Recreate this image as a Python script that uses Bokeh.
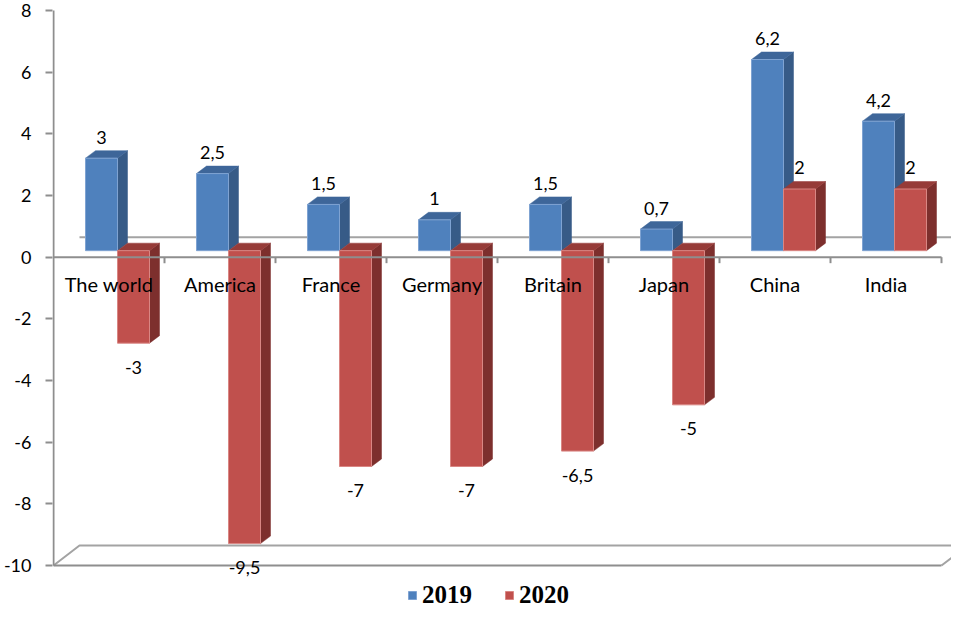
from bokeh.plotting import figure
from bokeh.models import Range1d, FixedTicker, Legend, LegendItem, ColumnDataSource
from bokeh.embed import file_html
from bokeh.resources import INLINE
from bokeh.core.properties import value

# ---- data ----
categories = ["The world", "America", "France", "Germany", "Britain", "Japan", "China", "India"]
values_2019 = [3, 2.5, 1.5, 1, 1.5, 0.7, 6.2, 4.2]
values_2020 = [-3, -9.5, -7, -7, -6.5, -5, 2, 2]
series_names = ["2019", "2020"]
y_ticks = [-10, -8, -6, -4, -2, 0, 2, 4, 6, 8]

# ---- geometry (pixels -> data units) ----
W, H = 951, 609
BL = 52
frame_w = W - BL
PXX = 111.0
X0 = -0.5 - 1 / PXX
X1 = X0 + frame_w / PXX
Y_TOP_PX, Y_BOT_PX = 10, 565          # screen rows of y=8 and y=-10 inside the frame
PXY = (Y_BOT_PX - Y_TOP_PX) / (y_ticks[-1] - y_ticks[0])
Y1 = y_ticks[-1] + Y_TOP_PX / PXY
Y0 = y_ticks[0] - (H - Y_BOT_PX) / PXY

ox, oy = 8.5 / PXX, 6.5 / PXY      # bar front-face offset (depth)
dx, dy = 10 / PXX, 7.5 / PXY       # bar depth
bw = 32 / PXX                      # bar width
wx, wy = 26 / PXX, 20 / PXY        # wall / floor depth
n = len(categories)
XL, XR = -0.5, n - 0.5
YB, YT = y_ticks[0], y_ticks[-1]

def fmt(v):
    return str(int(v)) if float(v).is_integer() else str(v).replace(".", ",")

def bar_shapes(vals, left_side):
    d = dict(left=[], right=[], bottom=[], top=[])
    tops_x, tops_y, sides_x, sides_y = [], [], [], []
    for i, v in enumerate(vals):
        x0 = i + ox - bw if left_side else i + ox
        x1 = x0 + bw
        b = min(0, v) + oy
        t = max(0, v) + oy
        d["left"].append(x0); d["right"].append(x1)
        d["bottom"].append(b); d["top"].append(t)
        tops_x.append([x0, x1, x1 + dx, x0 + dx])
        tops_y.append([t, t, t + dy, t + dy])
        sides_x.append([x1, x1, x1 + dx, x1 + dx])
        sides_y.append([b, t, t + dy, b + dy])
    return d, tops_x, tops_y, sides_x, sides_y

p = figure(width=W, height=H, x_range=Range1d(X0, X1), y_range=Range1d(Y0, Y1),
           output_backend="svg", toolbar_location=None, x_axis_location=None,
           min_border_left=BL, min_border_right=0, min_border_top=0, min_border_bottom=0)
p.grid.visible = False
p.outline_line_color = None
p.background_fill_color = "white"

gray = "#8E8E8E"
lgray = "#A3A3A3"
# back wall zero line and floor
p.line([XL + wx, XR + wx], [wy, wy], line_color=lgray, line_width=2)
p.line([XL, XL + wx, XR + wx, XR], [YB, YB + wy, YB + wy, YB], line_color=lgray, line_width=2)
p.line([XL, XR], [YB, YB], line_color=gray, line_width=2)

colors = {
    "2019": dict(front="#4F81BD", side="#375B87", top="#3E6699", edge="#7FA3D2"),
    "2020": dict(front="#C0504D", side="#7D2F2D", top="#963B38", edge="#D98683"),
}

renderers = []
for name, vals, left in [("2019", values_2019, True), ("2020", values_2020, False)]:
    c = colors[name]
    d, tx, ty, sx, sy = bar_shapes(vals, left)
    p.patches(sx, sy, fill_color=c["side"], line_color=c["side"], line_width=0.5)
    p.patches(tx, ty, fill_color=c["top"], line_color=c["top"], line_width=0.5)
    r = p.quad(left="left", right="right", bottom="bottom", top="top", source=ColumnDataSource(d),
               fill_color=c["front"], line_color=c["edge"], line_width=1)
    renderers.append(r)

# front zero axis line with tick marks
p.line([XL, XR], [0, 0], line_color=gray, line_width=2)
tick_x = [i + 0.5 for i in range(n)]
p.segment(x0=tick_x, y0=[0] * n, x1=tick_x, y1=[-6 / PXY] * n, line_color=gray, line_width=2)
# vertical axis line (drawn as a glyph so the frame can extend past it)
p.line([XL, XL], [YB, YT], line_color=gray, line_width=2)

font = value("Lato")
# category labels
p.text(x=list(range(n)), y=[0] * n, text=categories,
       text_font=font, text_font_size="20px", text_align="center", text_baseline="middle",
       y_offset=27, text_color="#000000")

# value labels 2019
lx = [i + ox - bw / 2 for i in range(n)]
ly = [max(0, v) + oy for v in values_2019]
p.text(x=lx, y=ly, text=[fmt(v) for v in values_2019], text_font=font, text_font_size="18px",
       text_align="center", text_baseline="middle", y_offset=-21, text_color="#000000")

# value labels 2020
lx2 = [i + ox + bw / 2 for i in range(n)]
ly2 = [v + oy for v in values_2020]
off2 = [24 if v < 0 else -22 for v in values_2020]
src2 = ColumnDataSource(dict(x=lx2, y=ly2, t=[fmt(v) for v in values_2020], off=off2))
p.text(x="x", y="y", text="t", y_offset="off", source=src2, text_font=font, text_font_size="18px",
       text_align="center", text_baseline="middle", text_color="#000000")

# y axis
ax = p.yaxis[0]
ax.ticker = FixedTicker(ticks=y_ticks)
ax.major_label_overrides = {t: str(t) for t in y_ticks}
ax.minor_tick_line_color = None
ax.major_tick_out = 7
ax.major_tick_in = 0
ax.axis_line_color = None
ax.major_tick_line_color = gray
ax.major_tick_line_width = 2
ax.major_label_text_font = "Lato"
ax.major_label_text_font_size = "18px"
ax.major_label_text_color = "#000000"
ax.major_label_standoff = 14

legend = Legend(items=[LegendItem(label=series_names[0], renderers=[renderers[0]]),
                       LegendItem(label=series_names[1], renderers=[renderers[1]])],
                orientation="horizontal", location=(355, 0),
                glyph_width=10, glyph_height=10, label_standoff=5, spacing=32,
                padding=0, margin=0, border_line_color=None, background_fill_alpha=0,
                label_height=18,
                label_text_font="Liberation Serif", label_text_font_style="bold",
                label_text_font_size="25px", label_text_color="#000000")
p.add_layout(legend, "center")

open("out.html", "w").write(file_html(p, INLINE))
